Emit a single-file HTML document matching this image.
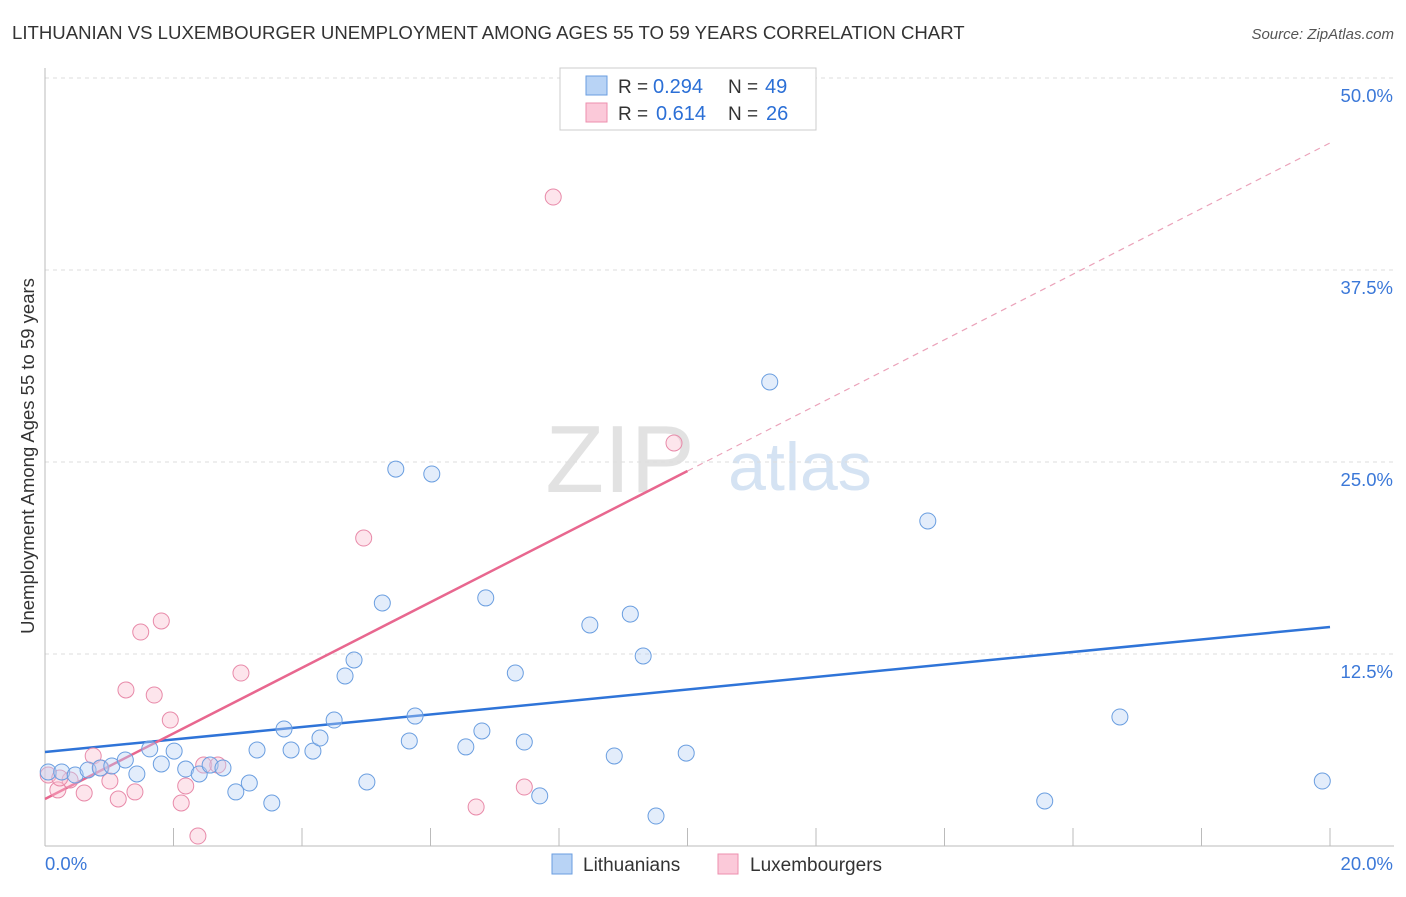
<!DOCTYPE html>
<html><head><meta charset="utf-8"><style>
body{margin:0;background:#fff;font-family:"Liberation Sans",sans-serif;}
svg text{font-family:"Liberation Sans",sans-serif;}
</style></head><body>
<svg id="chart" width="1406" height="892" xmlns="http://www.w3.org/2000/svg">
<text x="12" y="39" font-size="18.6" fill="#333">LITHUANIAN VS LUXEMBOURGER UNEMPLOYMENT AMONG AGES 55 TO 59 YEARS CORRELATION CHART</text>
<text x="1394" y="39" font-size="15" fill="#555" text-anchor="end" font-style="italic">Source: ZipAtlas.com</text>
<text transform="translate(34,456) rotate(-90)" font-size="18.5" fill="#333" text-anchor="middle">Unemployment Among Ages 55 to 59 years</text>
<g>
<text x="620" y="492" font-size="96" fill="#e2e2e2" font-family="Liberation Serif" text-anchor="middle">ZIP</text>
<text x="800" y="490" font-size="68" fill="#d5e3f3" text-anchor="middle">atlas</text>
</g>
<g id="grid"></g><g id="trends"></g><g id="points"></g>
<g>
<rect x="560" y="68" width="256" height="62" fill="#fff" stroke="#ccc"/>
<rect x="586" y="76" width="21" height="19" fill="#b8d3f5" stroke="#6a9ee0"/>
<text x="618" y="93" font-size="19" fill="#333">R =</text>
<text x="653" y="93" font-size="20" fill="#2b6fd6">0.294</text>
<text x="728" y="93" font-size="19" fill="#333">N =</text>
<text x="765" y="93" font-size="20" fill="#2b6fd6">49</text>
<rect x="586" y="103" width="21" height="19" fill="#fbc9d9" stroke="#ec8fae"/>
<text x="618" y="120" font-size="19" fill="#333">R =</text>
<text x="656" y="120" font-size="20" fill="#2b6fd6">0.614</text>
<text x="728" y="120" font-size="19" fill="#333">N =</text>
<text x="766" y="120" font-size="20" fill="#2b6fd6">26</text>
</g>
<g>
<rect x="552" y="854" width="20" height="20" fill="#b8d3f5" stroke="#6a9ee0"/>
<text x="583" y="871" font-size="19" fill="#333">Lithuanians</text>
<rect x="718" y="854" width="20" height="20" fill="#fbc9d9" stroke="#ec8fae"/>
<text x="750" y="871" font-size="19" fill="#333">Luxembourgers</text>
</g>
</svg>
<script>
const yTicks=[12.5,25,37.5,50];
const yTickLabels=["12.5%","25.0%","37.5%","50.0%"];
const xTicks=[0,2,4,6,8,10,12,14,16,18,20];
const blueX=[0.05,0.26,0.47,0.67,0.86,1.04,1.25,1.43,1.63,1.81,2.01,2.19,2.40,2.57,2.77,2.97,3.18,3.30,3.53,3.72,3.83,4.17,4.28,4.50,4.67,4.81,5.01,5.25,5.46,5.67,5.76,6.02,6.55,6.80,6.86,7.32,7.46,7.70,8.48,8.86,9.11,9.31,9.51,9.98,11.28,13.74,15.56,16.73,19.88];
const blueY=[4.82,4.82,4.62,4.95,5.08,5.21,5.60,4.69,6.32,5.34,6.18,5.01,4.69,5.27,5.08,3.52,4.10,6.25,2.80,7.62,6.25,6.18,7.03,8.20,11.07,12.11,4.17,15.82,24.54,6.84,8.46,24.22,6.45,7.49,16.15,11.26,6.77,3.26,14.39,5.86,15.10,12.37,1.95,6.05,30.21,21.16,2.93,8.40,4.23];
const pinkX=[0.05,0.20,0.39,0.61,0.75,0.87,1.01,1.14,1.26,1.40,1.49,1.70,1.81,1.95,2.12,2.19,2.38,2.47,2.69,3.05,4.96,6.71,7.46,7.91,9.79,0.23];
const pinkY=[4.62,3.65,4.30,3.45,5.86,5.08,4.23,3.06,10.16,3.52,13.93,9.83,14.65,8.20,2.80,3.91,0.65,5.27,5.27,11.26,20.05,2.54,3.84,42.25,26.24,4.43];
const blueTrend=[6.12,14.26];
const pinkTrend=[3.06,45.77];
const pinkSolidEnd=10;
const NS="http://www.w3.org/2000/svg";
const sx=v=>45+v*64.25, sy=v=>846-v*15.36;
function mk(tag,attrs,parent){const e=document.createElementNS(NS,tag);for(const k in attrs)e.setAttribute(k,attrs[k]);parent.appendChild(e);return e;}
const g=document.getElementById('grid');
yTicks.forEach((t,i)=>{
 const l=mk('line',{x1:45,x2:1394,y1:sy(t),y2:sy(t),stroke:'#ddd','stroke-dasharray':'4,4'},g);
 
 
 const tx=mk('text',{x:1393,y:sy(t)+24,'font-size':18.5,fill:'#3b78d8','text-anchor':'end'},g);
 tx.textContent=yTickLabels[i];
 
 
});
const ax=mk('line',{x1:45,x2:1394,y1:846,y2:846,stroke:'#bbb'},g);


const ay=mk('line',{x1:45,x2:45,y1:68,y2:846,stroke:'#bbb'},g);


xTicks.forEach(t=>{
 const l=mk('line',{x1:sx(t),x2:sx(t),y1:828,y2:846,stroke:'#bbb'},g);
 
 
});
const x0=mk('text',{x:45,y:870,'font-size':18.5,fill:'#3b78d8'},g);x0.textContent='0.0%';


const x1=mk('text',{x:1393,y:870,'font-size':18.5,fill:'#3b78d8','text-anchor':'end'},g);x1.textContent='20.0%';


const p=document.getElementById('points');
function dots(xs,ys,fill,stroke,name){xs.forEach((x,i)=>{
 const c=mk('circle',{cx:sx(x),cy:sy(ys[i]),r:8,fill:fill,'fill-opacity':0.4,stroke:stroke,'stroke-width':1},p);
 
 
});}
dots(pinkX,pinkY,'#f9bdd0','#e88aa9','luxembourger-point');
dots(blueX,blueY,'#b8d3f5','#6a9ee0','lithuanian-point');
const tr=document.getElementById('trends');
const bl=mk('line',{x1:sx(0),y1:sy(blueTrend[0]),x2:sx(20),y2:sy(blueTrend[1]),stroke:'#2f74d8','stroke-width':2.5},tr);


const pAt=x=>pinkTrend[0]+(pinkTrend[1]-pinkTrend[0])*x/20;
const pl=mk('line',{x1:sx(0),y1:sy(pAt(0)),x2:sx(pinkSolidEnd),y2:sy(pAt(pinkSolidEnd)),stroke:'#e8678f','stroke-width':2.5},tr);


const pd=mk('line',{x1:sx(pinkSolidEnd),y1:sy(pAt(pinkSolidEnd)),x2:sx(20),y2:sy(pAt(20)),stroke:'#eba3ba','stroke-width':1.2,'stroke-dasharray':'6,5'},tr);


</script>
</body></html>
